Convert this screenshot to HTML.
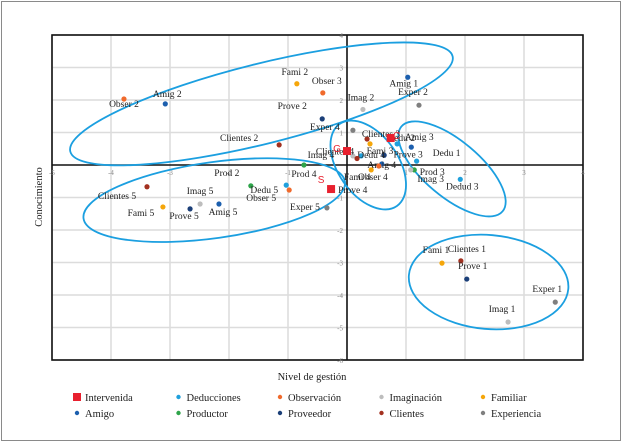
<!DOCTYPE html>
<html><head><meta charset="utf-8"><style>
html,body{margin:0;padding:0;background:#fff;}
#wrap{position:relative;width:624px;height:444px;overflow:hidden;font-family:"Liberation Serif",serif;}
#frame{position:absolute;left:1px;top:1px;width:620px;height:440px;border:1px solid #8a8a8a;box-sizing:border-box;}
svg{position:absolute;left:0;top:0;}
</style></head><body>
<div id="wrap">
<div id="frame"></div>
<svg id="chart" width="624" height="444"></svg>
</div>
<script>
const xTicks=[-5,-4,-3,-2,-1,1,2,3,4];
const yTicks=[4,3,2,1,-1,-2,-3,-4,-5,-6];
const pointNames=["Obser 2","Amig 2","Fami 2","Obser 3","Prove 2","Clientes 2","Amig 1","Exper 2","Imag 2","Exper 4","Clientes 3","Fami 3","Dedu 2","Amig 3","Prove 3","Dedu 1","Dedu 4","Imag 4","Clientes 4","Amig 4","Obser 4","Fami 4","Prod 3","Imag 3","Dedud 3","Prod 4","Prod 2","Dedu 5","Obser 5","Exper 5","Clientes 5","Imag 5","Fami 5","Prove 5","Amig 5","Fami 1","Clientes 1","Prove 1","Exper 1","Imag 1"];
const pointCats=["obs","ami","fam","obs","pro","cli","ami","exp","ima","exp","cli","fam","ded","ami","pro","ded","ded","ima","cli","ami","obs","fam","prd","ima","ded","prd","prd","ded","obs","exp","cli","ima","fam","pro","ami","fam","cli","pro","exp","ima"];
const pointX=[-3.78,-3.08,-0.85,-0.41,-0.42,-1.15,1.03,1.22,0.27,0.1,0.34,0.39,0.85,1.09,0.63,1.18,0.24,0.1,0.17,0.59,0.54,0.41,1.14,1.08,1.92,-0.73,-1.63,-1.03,-0.98,-0.34,-3.39,-2.49,-3.12,-2.66,-2.17,1.61,1.93,2.03,3.53,2.73];
const pointY=[2.03,1.88,2.5,2.22,1.42,0.62,2.7,1.84,1.71,1.07,0.8,0.65,0.65,0.55,0.3,0.12,0.28,0.28,0.2,0.03,-0.03,-0.15,-0.15,-0.15,-0.44,0.0,-0.64,-0.62,-0.77,-1.32,-0.67,-1.2,-1.29,-1.35,-1.2,-3.02,-2.95,-3.51,-4.22,-4.83];
// label offsets (px) relative to point
const labelDX=[0,2,-2,4,-30,-40,-4,-6,-2,-28,14,10,4,8,24,30,10,-32,-22,0,-6,-14,18,20,2,0,-24,-22,-28,-22,-30,0,-22,-6,4,-6,6,6,-8,-6];
const labelDY=[8,-7,-9,-9,-10,-4,9,-10,-9,0,-2,10,-3,-7,2,-5,2,2,-4,4,14,10,5,12,10,12,-10,8,11,2,12,-10,9,10,11,-10,-9,-10,-10,-10];
const squareNames=["G","C","S"];
const squareX=[0.0,0.74,-0.27];
const squareY=[0.43,0.83,-0.74];
const ellipseCX=[-1.45,-2.25,0.36,1.78,2.4];
const ellipseCY=[1.88,-1.08,0.0,-0.12,-3.6];
const ellipseRX=[197,132,50,66,80];
const ellipseRY=[40,38,30,28,47];
const ellipseRot=[-14,-8,55,40,5];
const catKeys=["int","ded","obs","ima","fam","ami","prd","pro","cli","exp"];
const catLabels=["Intervenida","Deducciones","Observación","Imaginación","Familiar","Amigo","Productor","Proveedor","Clientes","Experiencia"];
const catColors={int:"#e8202e",ded:"#1fa0dc",obs:"#f06a2c",ima:"#bdbdbd",fam:"#f5a60a",ami:"#1c5fae",prd:"#2ea44a",pro:"#1b3f78",cli:"#a33120",exp:"#7f7f7f"};

const NS="http://www.w3.org/2000/svg";
const svg=document.getElementById('chart');
const X0=52,X1=583,Y0=35,Y1=360,xmin=-5,xmax=4,ymin=-6,ymax=4;
function sx(v){return X0+(v-xmin)/(xmax-xmin)*(X1-X0);}
function sy(v){return Y1-(v-ymin)/(ymax-ymin)*(Y1-Y0);}
function mk(tag,attrs,parent){const e=document.createElementNS(NS,tag);for(const k in attrs)e.setAttribute(k,attrs[k]);(parent||svg).appendChild(e);return e;}

const grid=mk('g',{});


for(let v=xmin;v<=xmax;v++){if(v===0)continue;const l=mk('line',{x1:sx(v),x2:sx(v),y1:Y0,y2:Y1,stroke:'#dcdcdc','stroke-width':1.5},grid);

}
for(let v=ymin;v<=ymax;v++){if(v===0)continue;const l=mk('line',{x1:X0,x2:X1,y1:sy(v),y2:sy(v),stroke:'#dcdcdc','stroke-width':1.5},grid);

}
const box=mk('rect',{x:X0,y:Y0,width:X1-X0,height:Y1-Y0,fill:'none',stroke:'#111','stroke-width':1.6});


const ax=mk('line',{x1:X0,x2:X1,y1:sy(0),y2:sy(0),stroke:'#111','stroke-width':1.6});


const ay=mk('line',{x1:sx(0),x2:sx(0),y1:Y0,y2:Y1,stroke:'#111','stroke-width':1.6});


xTicks.forEach(v=>{const t=mk('text',{x:sx(v),y:sy(0)+10,'font-size':7,fill:'#888','text-anchor':'middle'});t.textContent=v;

});
yTicks.forEach(v=>{const t=mk('text',{x:sx(0)-4,y:sy(v)+3,'font-size':7,fill:'#888','text-anchor':'end'});t.textContent=v;

});

ellipseCX.forEach((cx,i)=>{const e=mk('ellipse',{cx:0,cy:0,rx:ellipseRX[i],ry:ellipseRY[i],fill:'none',stroke:'#1b9fe0','stroke-width':1.8,transform:`translate(${sx(cx)},${sy(ellipseCY[i])}) rotate(${ellipseRot[i]})`});

});

pointX.forEach((x,i)=>{const px=sx(x),py=sy(pointY[i]);
const c=mk('circle',{cx:px,cy:py,r:2.6,fill:catColors[pointCats[i]]});


const t=mk('text',{x:px+labelDX[i],y:py+labelDY[i],'font-size':9.5,fill:'#222','text-anchor':'middle'});t.textContent=pointNames[i];

});

squareX.forEach((x,i)=>{const px=sx(x),py=sy(squareY[i]);
const r=mk('rect',{x:px-4,y:py-4,width:8,height:8,fill:'#e8202e'});


const t=mk('text',{x:px-(i===1?-6:10),y:py+(i===2?-6:1),'font-size':10,fill:'#e8202e','font-family':'Liberation Sans, sans-serif','text-anchor':'middle'});t.textContent=squareNames[i];

});
const pv=mk('text',{x:sx(-0.27)+7,y:sy(-0.74)+4,'font-size':9.5,fill:'#222'});pv.textContent='Prove 4';



const xt=mk('text',{x:312,y:380,'font-size':10.5,fill:'#222','text-anchor':'middle'});xt.textContent='Nivel de gestión';


const yt=mk('text',{x:0,y:0,'font-size':10.5,fill:'#222','text-anchor':'middle',transform:'translate(42,197) rotate(-90)'});yt.textContent='Conocimiento';



catKeys.forEach((k,i)=>{const col=i%5,row=Math.floor(i/5);const lx=77+col*101.5,ly=397+row*16;
const g=mk('g',{});


if(k==='int')mk('rect',{x:lx-4,y:ly-4,width:8,height:8,fill:catColors[k]},g);
else mk('circle',{cx:lx,cy:ly,r:2.2,fill:catColors[k]},g);
const t=mk('text',{x:lx+8,y:ly+4,'font-size':10.5,fill:'#222'},g);t.textContent=catLabels[i];});
</script>
</body></html>
